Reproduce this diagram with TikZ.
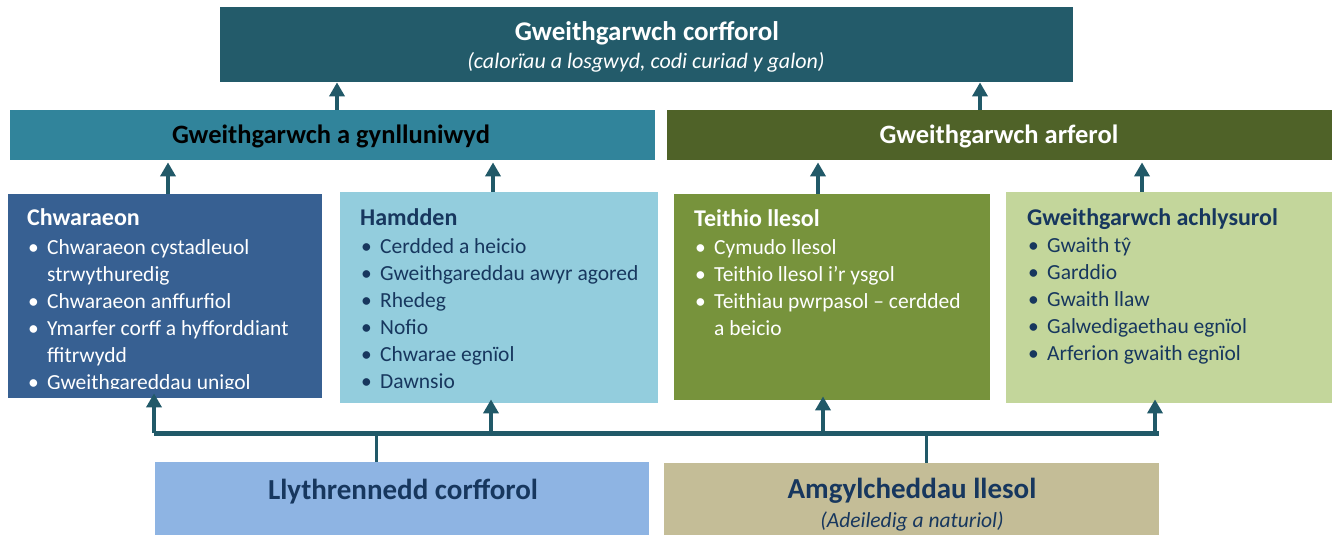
\documentclass[tikz,border=0pt]{standalone}
\usepackage{fontspec}
\setmainfont{Carlito}
\usetikzlibrary{arrows.meta}
\definecolor{topc}{HTML}{235B6A}
\definecolor{midl}{HTML}{31849B}
\definecolor{midr}{HTML}{4F6228}
\definecolor{chwc}{HTML}{376092}
\definecolor{hamc}{HTML}{93CDDD}
\definecolor{teic}{HTML}{77933C}
\definecolor{achc}{HTML}{C3D69B}
\definecolor{llyc}{HTML}{8EB4E3}
\definecolor{amgc}{HTML}{C4BD97}
\definecolor{navy}{HTML}{17375E}
\definecolor{arrc}{HTML}{215968}
\newcommand\bul[1]{\hspace*{1bp}\makebox[19bp][l]{\textbullet}#1}
\newcommand\cont[1]{\hspace*{20bp}#1}
\newcommand\hd[1]{{\bfseries\fontsize{24bp}{27bp}\selectfont #1}}
\tikzset{
  boxx/.style={inner sep=0, anchor=north west, draw=none},
  arr/.style={draw=arrc, line width=4bp, -{Triangle[width=15bp,length=14bp]}},
  busline/.style={draw=arrc, line width=5bp},
  drop/.style={draw=arrc, line width=3bp},
  lst/.style={inner sep=0, anchor=north west, align=left, font=\fontsize{21.5bp}{27bp}\selectfont},
  bigt/.style={inner sep=0, font=\bfseries\fontsize{27bp}{30bp}\selectfont},
  subt/.style={inner sep=0, font=\itshape\fontsize{22bp}{26bp}\selectfont},
}
\begin{document}
\begin{tikzpicture}[x=1bp,y=-1bp]
\useasboundingbox (0,0) rectangle (1339,535);
% boxes
\node[boxx, fill=topc, minimum width=853bp, minimum height=75bp] (top) at (220,7) {};
\node[boxx, fill=midl, minimum width=645bp, minimum height=50bp] (midL) at (10,110) {};
\node[boxx, fill=midr, minimum width=665bp, minimum height=50bp] (midR) at (667,110) {};
\node[boxx, fill=chwc, minimum width=314bp, minimum height=204bp] (chw) at (8,194) {};
\node[boxx, fill=hamc, minimum width=318bp, minimum height=211bp] (ham) at (340,192) {};
\node[boxx, fill=teic, minimum width=316bp, minimum height=206bp] (tei) at (674,194) {};
\node[boxx, fill=achc, minimum width=326bp, minimum height=211bp] (ach) at (1006,192) {};
\node[boxx, fill=llyc, minimum width=494bp, minimum height=80bp] (lly) at (155,462) {};
\node[boxx, fill=amgc, minimum width=495bp, minimum height=80bp] (amg) at (664,463) {};
% titles
\node[bigt, text=white] (t1) at (647,33) {Gweithgarwch corfforol};
\node[subt, text=white] (t1s) at (646,62) {(calorïau a losgwyd, codi curiad y galon)};
\node[bigt, text=black, font=\bfseries\fontsize{26.5bp}{30bp}\selectfont] (t2) at (331,136) {Gweithgarwch a gynlluniwyd};
\node[bigt, text=white, font=\bfseries\fontsize{26.5bp}{30bp}\selectfont] (t3) at (999,136) {Gweithgarwch arferol};
\node[bigt, text=navy, font=\bfseries\fontsize{29bp}{32bp}\selectfont] (t4) at (403,492) {Llythrennedd corfforol};
\node[bigt, text=navy, font=\bfseries\fontsize{29bp}{32bp}\selectfont] (t5) at (912,491) {Amgylcheddau llesol};
\node[subt, text=navy, font=\itshape\fontsize{21.5bp}{26bp}\selectfont] (t5s) at (912,521) {(Adeiledig a naturiol)};
% lists
\begin{scope}
\clip (8,194) rectangle (322,388);
\node[lst, text=white] (l1) at (27,208.5) {\hd{Chwaraeon}\\[2bp]
\bul{Chwaraeon cystadleuol}\\
\cont{strwythuredig}\\
\bul{Chwaraeon anffurfiol}\\
\bul{Ymarfer corff a hyfforddiant}\\
\cont{ffitrwydd}\\
\bul{Gweithgareddau unigol}};
\end{scope}
\node[lst, text=navy] (l2) at (360,208) {\hd{Hamdden}\\[1bp]
\bul{Cerdded a heicio}\\
\bul{Gweithgareddau awyr agored}\\
\bul{Rhedeg}\\
\bul{Nofio}\\
\bul{Chwarae egnïol}\\
\bul{Dawnsio}};
\node[lst, text=white] (l3) at (694,209.5) {\hd{Teithio llesol}\\[1bp]
\bul{Cymudo llesol}\\
\bul{Teithio llesol i’r ysgol}\\
\bul{Teithiau pwrpasol – cerdded}\\
\cont{a beicio}};
\node[lst, text=navy] (l4) at (1027,208.5) {\hd{Gweithgarwch achlysurol}\\[0bp]
\bul{Gwaith tŷ}\\
\bul{Garddio}\\
\bul{Gwaith llaw}\\
\bul{Galwedigaethau egnïol}\\
\bul{Arferion gwaith egnïol}};
% connectors upper
\coordinate (a1) at (337,110);
\coordinate (a2) at (980,110);
\draw[arr] (a1) -- (top.south -| a1);
\draw[arr] (a2) -- (top.south -| a2);
\coordinate (b1) at (168,194);
\coordinate (b2) at (493,192);
\coordinate (b3) at (818,194);
\coordinate (b4) at (1142,192);
\draw[arr] (b1) -- ([yshift=-2bp]midL.south -| b1);
\draw[arr] (b2) -- ([yshift=-2bp]midL.south -| b2);
\draw[arr] (b3) -- ([yshift=-2bp]midR.south -| b3);
\draw[arr] (b4) -- ([yshift=-2bp]midR.south -| b4);
% bus
\coordinate (busL) at (154,433);
\coordinate (busR) at (1159,433);
\draw[busline] (busL) -- (busR);
\coordinate (c1) at (154,433);
\coordinate (c2) at (491,433);
\coordinate (c3) at (823,433);
\coordinate (c4) at (1155,433);
\draw[arr] (c1) -- ([yshift=5bp]chw.south -| c1);
\draw[arr] (c2) -- ([yshift=4bp]ham.south -| c2);
\draw[arr] (c3) -- ([yshift=4bp]tei.south -| c3);
\draw[arr] (c4) -- ([yshift=4bp]ach.south -| c4);
\coordinate (d1) at (376,433);
\coordinate (d2) at (926,433);
\draw[drop] (d1) -- (lly.north -| d1);
\draw[drop] (d2) -- (amg.north -| d2);
\end{tikzpicture}
\end{document}
